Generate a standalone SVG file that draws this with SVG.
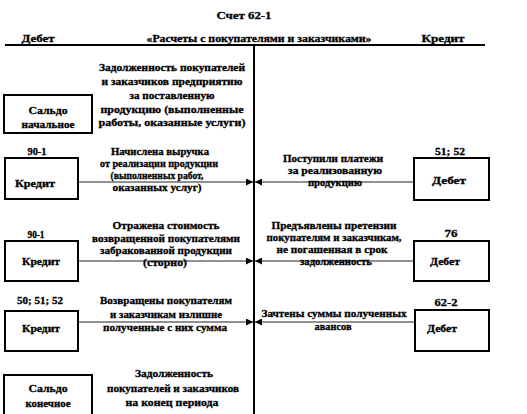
<svg xmlns="http://www.w3.org/2000/svg" width="527" height="414" viewBox="0 0 527 414">
<style>
text{font-family:'Liberation Serif','DejaVu Serif',serif;font-weight:bold;font-size:10.5px;fill:#000;stroke:#000;stroke-width:0.3;text-anchor:middle}
.box{fill:#fff;stroke:#000;stroke-width:2}
.rule{stroke:#000;stroke-width:2;fill:none}
.con{stroke:#222;stroke-width:1;fill:none}
</style>
<defs>
<marker id="ah" viewBox="0 0 10 10" refX="10" refY="5" markerWidth="8" markerHeight="7" markerUnits="userSpaceOnUse" orient="auto">
<path d="M0,0 L10,5 L0,10 z" fill="#000"/>
</marker>
</defs>
<rect width="527" height="414" fill="#fff"/>
<g id="header">
<text x="244" y="19" textLength="55" lengthAdjust="spacingAndGlyphs">Счет 62-1</text>
<text x="38" y="42" textLength="33" lengthAdjust="spacingAndGlyphs">Дебет</text>
<text x="259" y="42" textLength="225" lengthAdjust="spacingAndGlyphs">«Расчеты с покупателями  и заказчиками»</text>
<text x="443" y="42" textLength="43" lengthAdjust="spacingAndGlyphs">Кредит</text>
<line class="rule" x1="5" y1="45" x2="485" y2="45"/>
<line class="rule" x1="254" y1="45" x2="254" y2="414"/>
</g>
<g id="connectors">
<line class="con" x1="67" y1="182" x2="253" y2="182" marker-end="url(#ah)"/>
<line class="con" x1="428" y1="182" x2="255" y2="182" marker-end="url(#ah)"/>
<line class="con" x1="58" y1="261" x2="253" y2="261" marker-end="url(#ah)"/>
<line class="con" x1="430" y1="261" x2="255" y2="261" marker-end="url(#ah)"/>
<line class="con" x1="57" y1="322" x2="253" y2="322" marker-end="url(#ah)"/>
<line class="con" x1="430" y1="322" x2="255" y2="322" marker-end="url(#ah)"/>
</g>
<g id="saldo-start">
<rect class="box" x="4" y="95" width="88" height="38"/>
<text x="48" y="114" textLength="39" lengthAdjust="spacingAndGlyphs">Сальдо</text>
<text x="48" y="128" textLength="53" lengthAdjust="spacingAndGlyphs">начальное</text>
</g>
<g id="note-start">
<text x="172" y="71" textLength="146" lengthAdjust="spacingAndGlyphs">Задолженность покупателей</text>
<text x="172" y="85" textLength="141" lengthAdjust="spacingAndGlyphs">и заказчиков предприятию</text>
<text x="172" y="99" textLength="85" lengthAdjust="spacingAndGlyphs">за поставленную</text>
<text x="172" y="113" textLength="143" lengthAdjust="spacingAndGlyphs">продукцию (выполненные</text>
<text x="172" y="126" textLength="147" lengthAdjust="spacingAndGlyphs">работы, оказанные услуги)</text>
</g>
<g id="row1-left">
<text x="37" y="155" textLength="19" lengthAdjust="spacingAndGlyphs">90-1</text>
<rect class="box" x="5" y="158" width="73" height="41"/>
<text x="35" y="187" textLength="40" lengthAdjust="spacingAndGlyphs">Кредит</text>
</g>
<g id="row1-left-label">
<text x="160" y="155" textLength="98" lengthAdjust="spacingAndGlyphs">Начислена выручка</text>
<text x="159" y="167" textLength="118" lengthAdjust="spacingAndGlyphs">от реализации продукции</text>
<text x="157" y="179" textLength="93" lengthAdjust="spacingAndGlyphs">(выполненных работ,</text>
<text x="157" y="191" textLength="89" lengthAdjust="spacingAndGlyphs">оказанных услуг)</text>
</g>
<g id="row1-right">
<text x="450" y="155" textLength="30" lengthAdjust="spacingAndGlyphs">51; 52</text>
<rect class="box" x="414" y="158" width="75" height="42"/>
<text x="449" y="184" textLength="34" lengthAdjust="spacingAndGlyphs">Дебет</text>
</g>
<g id="row1-right-label">
<text x="333" y="162" textLength="100" lengthAdjust="spacingAndGlyphs">Поступили платежи</text>
<text x="335" y="174" textLength="94" lengthAdjust="spacingAndGlyphs">за реализованную</text>
<text x="335" y="186" textLength="54" lengthAdjust="spacingAndGlyphs">продукцию</text>
</g>
<g id="row2-left">
<text x="36" y="238" textLength="17" lengthAdjust="spacingAndGlyphs">90-1</text>
<rect class="box" x="5" y="241" width="73" height="40"/>
<text x="41" y="265" textLength="38" lengthAdjust="spacingAndGlyphs">Кредит</text>
</g>
<g id="row2-left-label">
<text x="166" y="229" textLength="107" lengthAdjust="spacingAndGlyphs">Отражена стоимость</text>
<text x="166" y="242" textLength="148" lengthAdjust="spacingAndGlyphs">возвращенной покупателями</text>
<text x="166" y="254" textLength="132" lengthAdjust="spacingAndGlyphs">забракованной продукции</text>
<text x="165" y="266" textLength="44" lengthAdjust="spacingAndGlyphs">(сторно)</text>
</g>
<g id="row2-right">
<text x="451" y="237" textLength="13" lengthAdjust="spacingAndGlyphs">76</text>
<rect class="box" x="414" y="241" width="75" height="40"/>
<text x="445" y="265" textLength="30" lengthAdjust="spacingAndGlyphs">Дебет</text>
</g>
<g id="row2-right-label">
<text x="334" y="229" textLength="125" lengthAdjust="spacingAndGlyphs">Предъявлены претензии</text>
<text x="334" y="241" textLength="135" lengthAdjust="spacingAndGlyphs">покупателям и заказчикам,</text>
<text x="332" y="253" textLength="111" lengthAdjust="spacingAndGlyphs">не погашенная в срок</text>
<text x="336" y="265" textLength="72" lengthAdjust="spacingAndGlyphs">задолженность</text>
</g>
<g id="row3-left">
<text x="40" y="304" textLength="46" lengthAdjust="spacingAndGlyphs">50; 51; 52</text>
<rect class="box" x="5" y="311" width="73" height="40"/>
<text x="41" y="332" textLength="38" lengthAdjust="spacingAndGlyphs">Кредит</text>
</g>
<g id="row3-left-label">
<text x="166" y="304" textLength="132" lengthAdjust="spacingAndGlyphs">Возвращены покупателям</text>
<text x="166" y="318" textLength="112" lengthAdjust="spacingAndGlyphs">и заказчикам излишне</text>
<text x="165" y="331" textLength="124" lengthAdjust="spacingAndGlyphs">полученные с них сумма</text>
</g>
<g id="row3-right">
<text x="446" y="306" textLength="23" lengthAdjust="spacingAndGlyphs">62-2</text>
<rect class="box" x="415" y="310" width="74" height="41"/>
<text x="442" y="332" textLength="30" lengthAdjust="spacingAndGlyphs">Дебет</text>
</g>
<g id="row3-right-label">
<text x="334" y="317" textLength="145" lengthAdjust="spacingAndGlyphs">Зачтены суммы полученных</text>
<text x="333" y="330" textLength="37" lengthAdjust="spacingAndGlyphs">авансов</text>
</g>
<g id="saldo-end">
<rect class="box" x="4" y="375" width="88" height="42"/>
<text x="48" y="392" textLength="39" lengthAdjust="spacingAndGlyphs">Сальдо</text>
<text x="48" y="407" textLength="45" lengthAdjust="spacingAndGlyphs">конечное</text>
</g>
<g id="note-end">
<text x="174" y="377" textLength="78" lengthAdjust="spacingAndGlyphs">Задолженность</text>
<text x="173" y="392" textLength="132" lengthAdjust="spacingAndGlyphs">покупателей и заказчиков</text>
<text x="172" y="406" textLength="93" lengthAdjust="spacingAndGlyphs">на конец периода</text>
</g>
</svg>
